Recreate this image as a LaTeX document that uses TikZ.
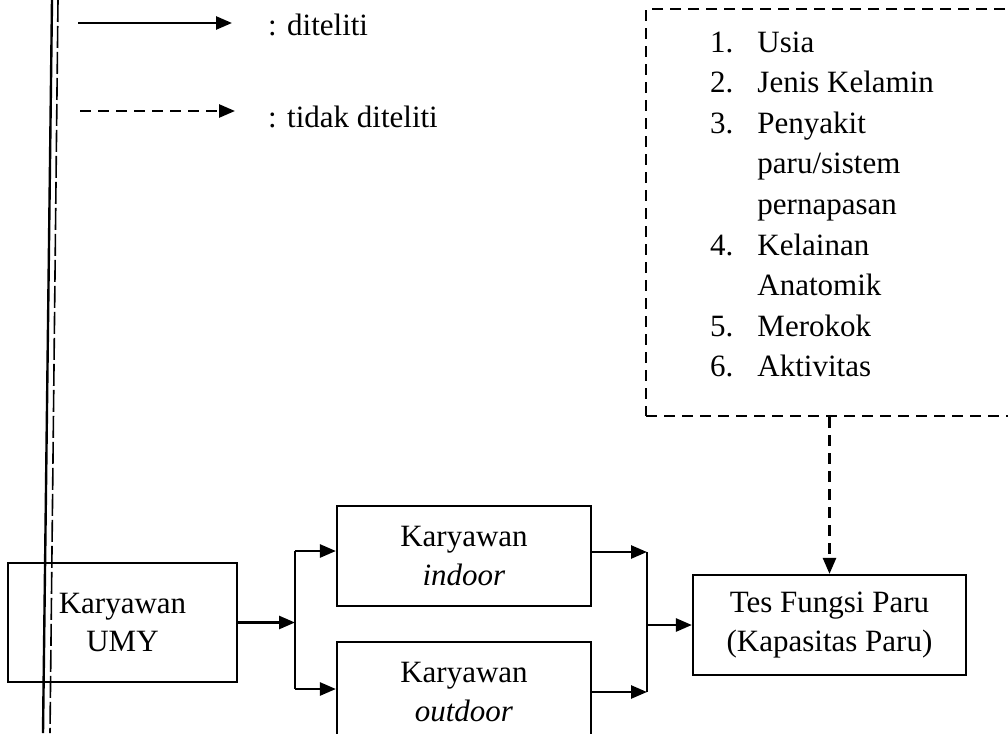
\documentclass[tikz,border=0pt]{standalone}
\usepackage{fontspec}
\setmainfont{Liberation Serif}
\usetikzlibrary{arrows.meta,positioning}

\tikzset{
  kotak/.style={draw, line width=2.2pt, align=center, inner sep=0pt,
    font=\fontsize{31}{38.5}\selectfont},
  panah/.style={line width=2.6pt, -{Triangle[length=16pt,width=13pt]}},
  garis/.style={line width=2.6pt},
  putus/.style={dash pattern=on 11pt off 7pt},
  legenda/.style={inner sep=0pt, font=\fontsize{31}{38}\selectfont},
}

\begin{document}
\begin{tikzpicture}[x=1pt,y=-1pt]

\path[use as bounding box, clip] (0,0) rectangle (1008,733);

% garis tepi halaman (hasil scan)
\draw [line width=2.4pt] (52,0) -- (43,733);
\draw [line width=1.6pt, dash pattern=on 22pt off 4pt] (58,0) -- (50,733);

% Keterangan
\coordinate (solidA) at (78,23);
\coordinate (solidB) at (232,23);
\coordinate (putusA) at (80,111);
\coordinate (putusB) at (235,111);
\draw [panah] (solidA) -- (solidB);
\draw [panah, putus] (putusA) -- (putusB);
\node [legenda, anchor=base west] (ketditeliti) at (268,36) {: diteliti};
\node [legenda, anchor=base west] (kettidak) at (268,128) {: tidak diteliti};

% Faktor yang tidak diteliti
\node [draw, putus, line width=2.2pt, minimum width=390pt, minimum height=407pt,
       anchor=north west] (faktor) at (645,8) {};
\node [legenda, anchor=north west, font=\fontsize{31}{40.6}\selectfont] (daftar) at (710,23.5) {%
  \begin{tabular}{@{}r@{\hspace{24pt}}l@{}}
  1. & Usia\\
  2. & Jenis Kelamin\\
  3. & Penyakit\\
     & paru/sistem\\
     & pernapasan\\
  4. & Kelainan\\
     & Anatomik\\
  5. & Merokok\\
  6. & Aktivitas
  \end{tabular}};

% Kotak utama
\node [kotak, minimum width=229pt, minimum height=119pt] (umy) at (122.5,622.5) {Karyawan\\UMY};
\node [kotak, minimum width=254pt, minimum height=100pt] (indoor) at (464,556) {Karyawan\\\textit{indoor}};
\node [kotak, minimum width=254pt, minimum height=100pt] (outdoor) at (464,692) {Karyawan\\\textit{outdoor}};
\node [kotak, minimum width=273pt, minimum height=100pt] (tes) at (829.5,625) {Tes Fungsi Paru\\(Kapasitas Paru)};

% Percabangan
\coordinate (cabangatas) at (295,551);
\coordinate (cabangbawah) at (295,689);
\draw [garis] (cabangatas) -- (cabangbawah);
\draw [panah] (umy.east) -- (umy.east -| cabangatas);
\draw [panah] (cabangatas) -- (cabangatas -| indoor.west);
\draw [panah] (cabangbawah) -- (cabangbawah -| outdoor.west);

% Penggabungan
\coordinate (gabungatas) at (647,552);
\coordinate (gabungbawah) at (647,692);
\draw [panah] (indoor.east |- gabungatas) -- (gabungatas);
\draw [panah] (outdoor.east |- gabungbawah) -- (gabungbawah);
\draw [garis] (gabungatas) -- (gabungbawah);
\draw [panah] (tes.west -| gabungatas) -- (tes.west);

\draw [panah, putus] (faktor.south -| tes.north) -- (tes.north);

\end{tikzpicture}
\end{document}
